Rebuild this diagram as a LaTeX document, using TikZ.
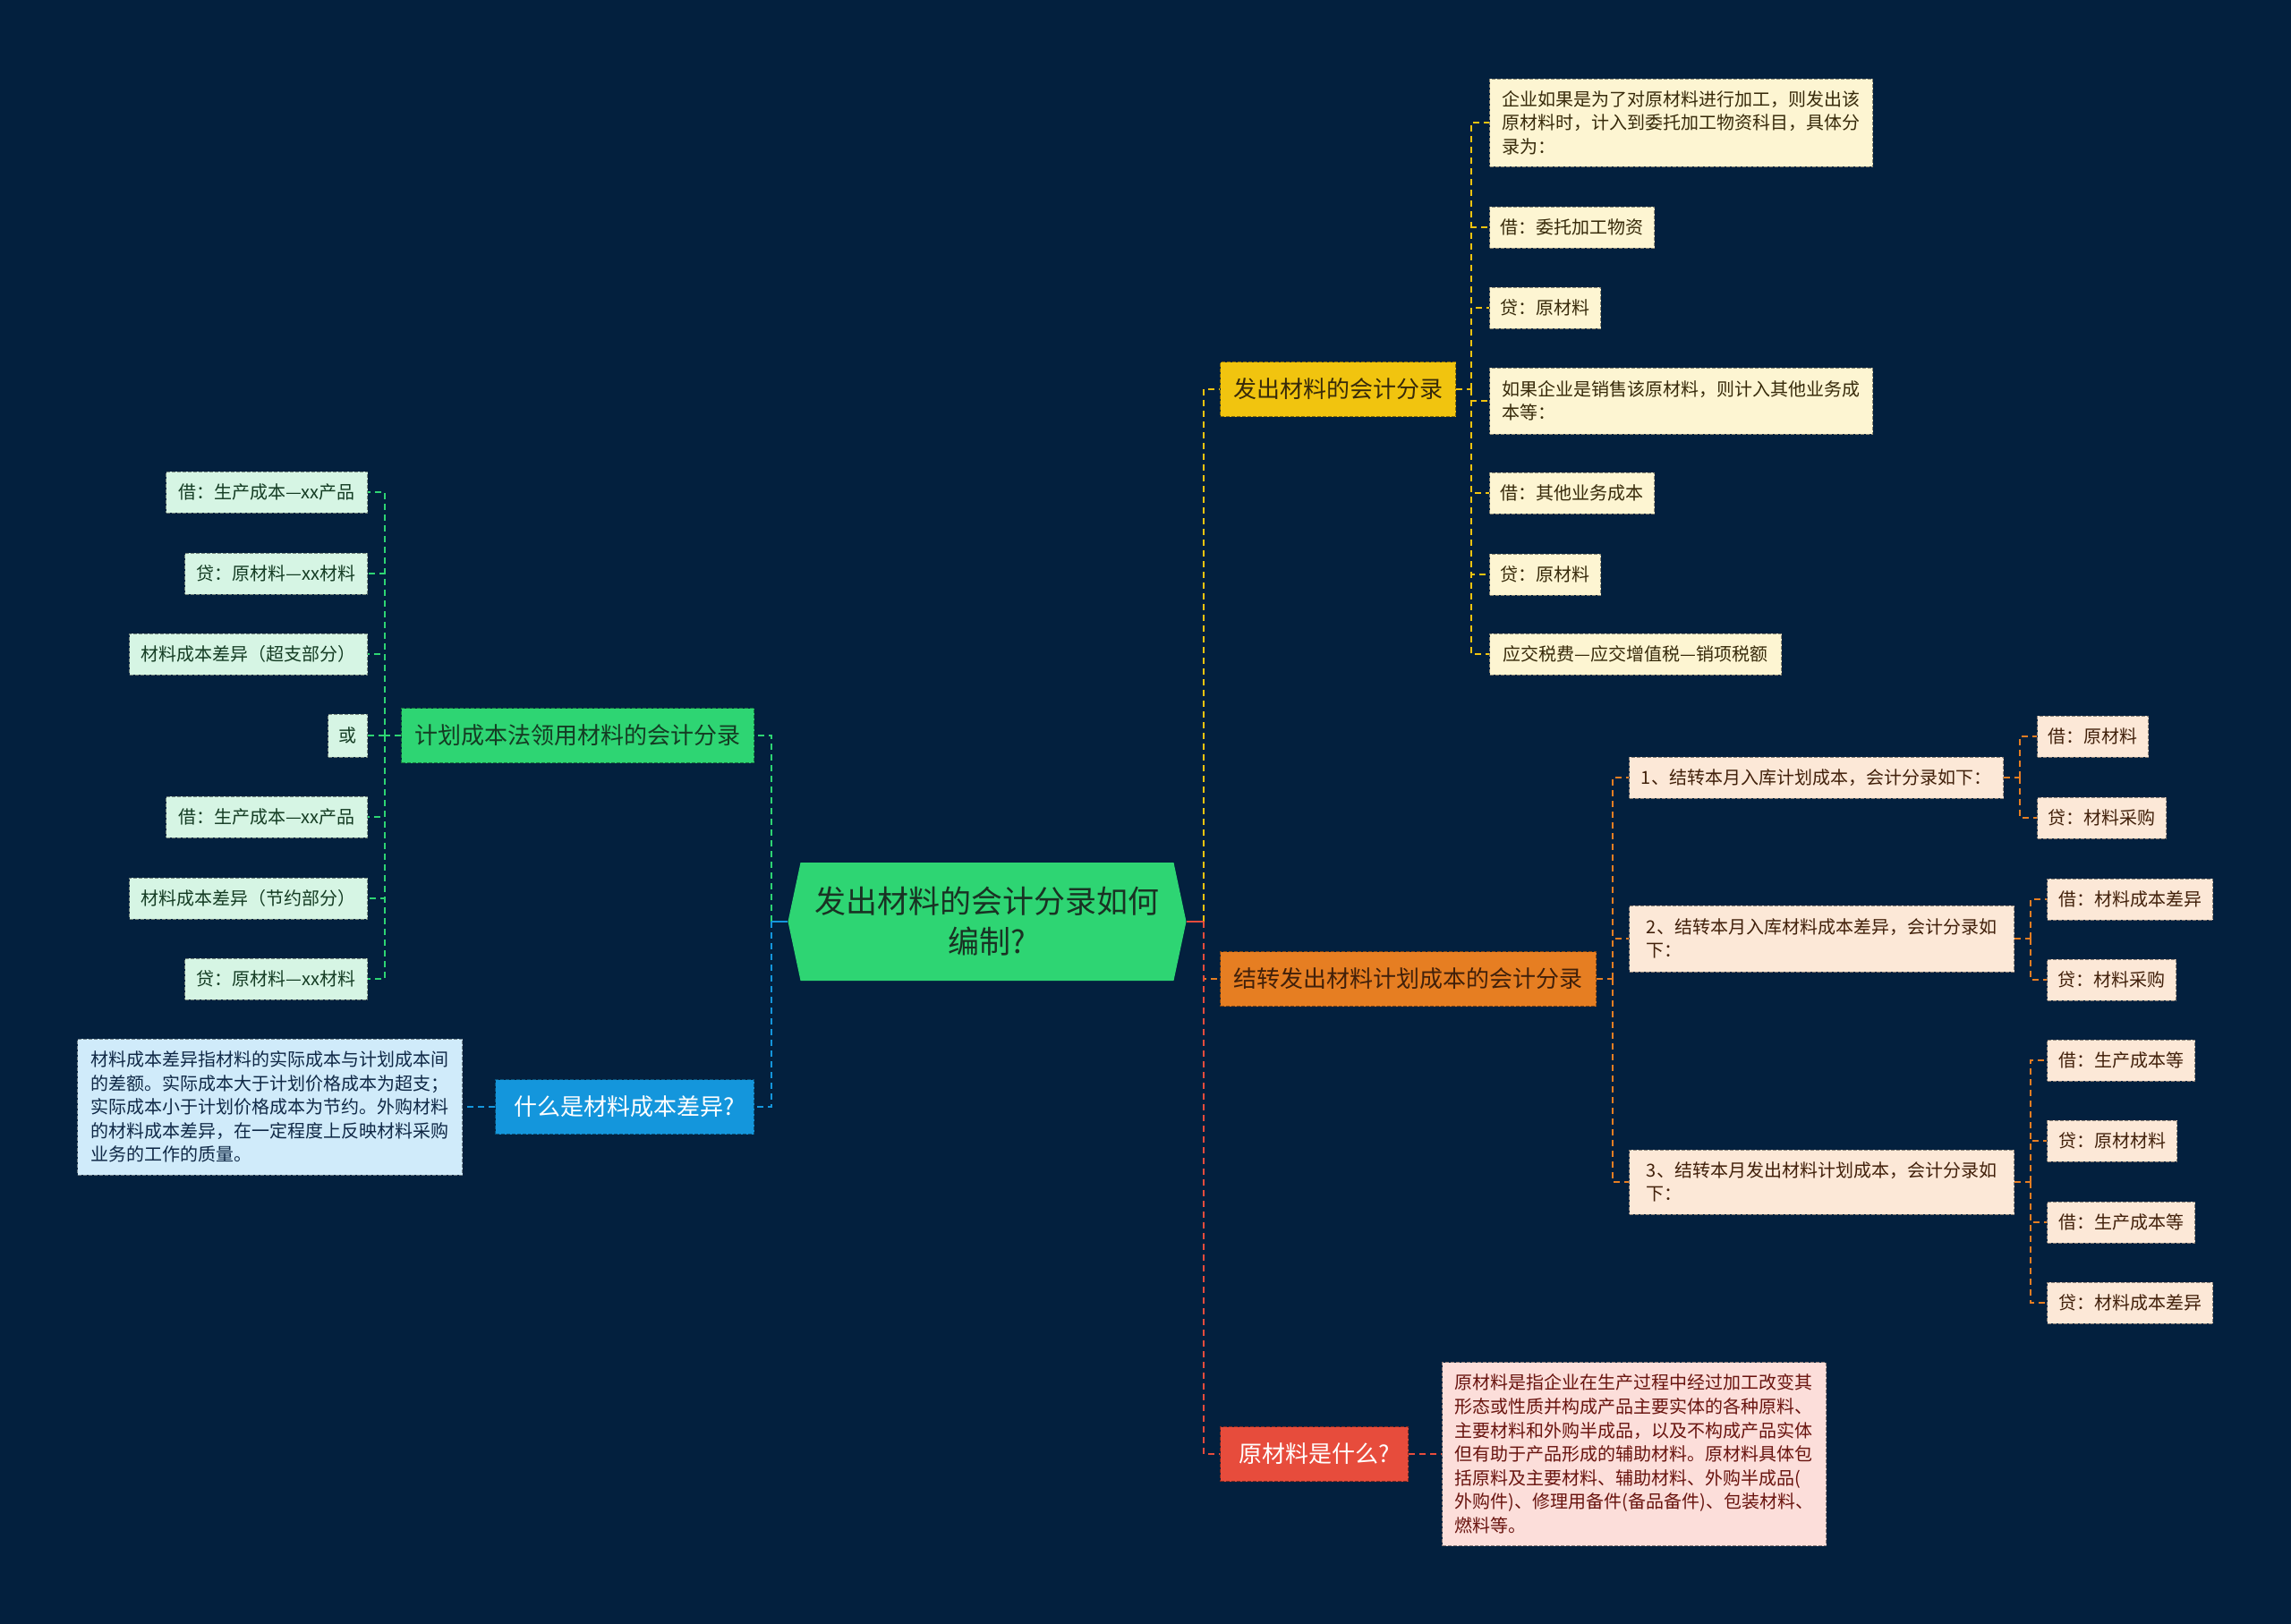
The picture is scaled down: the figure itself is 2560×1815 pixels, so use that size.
\documentclass[tikz,border=0pt]{standalone}
\usepackage{fontspec}
\setmainfont{Noto Sans CJK SC}
\usetikzlibrary{shapes.symbols}
\definecolor{bgc}{RGB}{3,32,62}
\definecolor{rootg}{RGB}{46,213,115}
\definecolor{roottxt}{RGB}{25,50,35}
\definecolor{ycol}{RGB}{241,196,15}
\definecolor{ocol}{RGB}{230,126,34}
\definecolor{rcol}{RGB}{231,76,60}
\definecolor{gcol}{RGB}{46,213,115}
\definecolor{bcol}{RGB}{20,150,220}
\definecolor{yfill}{RGB}{253,245,210}
\definecolor{ofill}{RGB}{252,232,215}
\definecolor{rfill}{RGB}{252,222,218}
\definecolor{gfill}{RGB}{214,245,228}
\definecolor{bfill}{RGB}{208,235,250}
\definecolor{ytxt}{RGB}{55,42,10}
\definecolor{otxt}{RGB}{65,32,10}
\definecolor{rtxt}{RGB}{105,20,15}
\definecolor{gtxt}{RGB}{20,60,35}
\definecolor{btxt}{RGB}{15,40,70}
\begin{document}
\begin{tikzpicture}[x=0.5pt,y=-0.5pt,
  box/.style={draw, dash pattern=on 2pt off 1pt, line width=0.5pt, inner xsep=6pt, inner ysep=0pt,
    font=\fontsize{10}{13.3}\selectfont, align=left, minimum height=23pt},
  yleaf/.style={box, fill=yfill, draw=yfill!55!black, text=ytxt, anchor=west},
  oleaf/.style={box, fill=ofill, draw=ofill!55!black, text=otxt, anchor=west},
  rleaf/.style={box, fill=rfill, draw=rfill!55!black, text=rtxt, anchor=west},
  gleaf/.style={box, fill=gfill, draw=gfill!55!black, text=gtxt, anchor=east},
  bleaf/.style={box, fill=bfill, draw=bfill!55!black, text=btxt, anchor=east},
  branch/.style={draw, dash pattern=on 2pt off 1pt, line width=0.5pt, inner xsep=0pt, inner ysep=0pt,
    font=\fontsize{13}{16}\selectfont, minimum height=30.5pt},
  conn/.style={line width=1pt, dash pattern=on 3.5pt off 2.5pt},
  yl/.style={conn, draw=ycol}, ol/.style={conn, draw=ocol}, rl/.style={conn, draw=rcol},
  gl/.style={conn, draw=gcol}, bl/.style={conn, draw=bcol}]
\fill[bgc] (0,0) rectangle (2560,1815);
\useasboundingbox (0,0) rectangle (2560,1815);

% root
\node[signal, signal to=west and east, signal pointer angle=156, fill=rootg, text=roottxt,
  minimum width=222.5pt, minimum height=66pt, inner sep=0pt, align=center,
  font=\fontsize{17.5}{22.5}\selectfont] (root) at (1103,1030) {发出材料的会计分录如何\\编制?};

% branches
\node[branch, fill=ycol, draw=ycol!55!black, text=ytxt, anchor=west, minimum width=131.5pt] (yb) at (1363,435) {发出材料的会计分录};
\node[branch, fill=ocol, draw=ocol!55!black, text=otxt, anchor=west, minimum width=210pt] (ob) at (1363,1094) {结转发出材料计划成本的会计分录};
\node[branch, fill=rcol, draw=rcol!55!black, text=white, anchor=west, minimum width=105pt] (rb) at (1363,1625) {原材料是什么?};
\node[branch, fill=gcol, draw=gcol!55!black, text=gtxt, anchor=east, minimum width=197pt] (gb) at (843,822) {计划成本法领用材料的会计分录};
\node[branch, fill=bcol, draw=bcol!55!black, text=white, anchor=east, minimum width=144.5pt] (bb) at (843,1237) {什么是材料成本差异?};

% yellow leaves
\node[yleaf, minimum width=214pt, minimum height=49pt] (A1) at (1664,137) {企业如果是为了对原材料进行加工，则发出该\\原材料时，计入到委托加工物资科目，具体分\\录为：};
\node[yleaf, minimum width=91.5pt] (A2) at (1664,254) {借：委托加工物资};
\node[yleaf, minimum width=60.5pt] (A3) at (1664,344) {贷：原材料};
\node[yleaf, minimum width=214pt, minimum height=37pt] (A4) at (1664,448) {如果企业是销售该原材料，则计入其他业务成\\本等：};
\node[yleaf, minimum width=91.5pt] (A5) at (1664,551) {借：其他业务成本};
\node[yleaf, minimum width=60.5pt] (A6) at (1664,642) {贷：原材料};
\node[yleaf, minimum width=163pt] (A7) at (1664,731) {应交税费—应交增值税—销项税额};

% orange sub-branches
\node[oleaf, minimum width=209pt] (B1) at (1820,869) {1、结转本月入库计划成本，会计分录如下：};
\node[oleaf, minimum width=215pt, minimum height=37pt] (B2) at (1820,1049) {2、结转本月入库材料成本差异，会计分录如\\下：};
\node[oleaf, minimum width=215pt, minimum height=36pt] (B3) at (1820,1321) {3、结转本月发出材料计划成本，会计分录如\\下：};
\node[oleaf, minimum width=61pt] (B11) at (2276,823) {借：原材料};
\node[oleaf, minimum width=71pt] (B12) at (2276,914) {贷：材料采购};
\node[oleaf, minimum width=92.5pt] (B21) at (2287,1005) {借：材料成本差异};
\node[oleaf, minimum width=72pt] (B22) at (2287,1095) {贷：材料采购};
\node[oleaf, minimum width=82.5pt] (B31) at (2287,1185) {借：生产成本等};
\node[oleaf, minimum width=72.5pt] (B32) at (2287,1275) {贷：原材材料};
\node[oleaf, minimum width=82.5pt] (B33) at (2287,1366) {借：生产成本等};
\node[oleaf, minimum width=92.5pt] (B34) at (2287,1456) {贷：材料成本差异};

% red leaf
\node[rleaf, minimum width=214.5pt, minimum height=102.5pt] (R1) at (1611,1625) {原材料是指企业在生产过程中经过加工改变其\\形态或性质并构成产品主要实体的各种原料、\\主要材料和外购半成品，以及不构成产品实体\\但有助于产品形成的辅助材料。原材料具体包\\括原料及主要材料、辅助材料、外购半成品(\\外购件)、修理用备件(备品备件)、包装材料、\\燃料等。};

% green leaves
\node[gleaf, minimum width=112.5pt] (C1) at (411,550) {借：生产成本—xx产品};
\node[gleaf, minimum width=102pt] (C2) at (411,641) {贷：原材料—xx材料};
\node[gleaf, minimum width=133pt] (C3) at (411,731) {材料成本差异（超支部分）};
\node[gleaf, minimum width=20pt, minimum height=24pt] (C4) at (411,822) {或};
\node[gleaf, minimum width=112.5pt] (C5) at (411,913) {借：生产成本—xx产品};
\node[gleaf, minimum width=133pt] (C6) at (411,1004) {材料成本差异（节约部分）};
\node[gleaf, minimum width=102pt] (C7) at (411,1094) {贷：原材料—xx材料};

% blue leaf
\node[bleaf, minimum width=215pt, minimum height=76pt] (L1) at (517,1237) {材料成本差异指材料的实际成本与计划成本间\\的差额。实际成本大于计划价格成本为超支；\\实际成本小于计划价格成本为节约。外购材料\\的材料成本差异，在一定程度上反映材料采购\\业务的工作的质量。};

% junction coordinates
\coordinate (jl) at (862,1030);
\coordinate (jr) at (1345,1030);
\coordinate (jy) at (1644,435);
\coordinate (jo) at (1802,1094);
\coordinate (jg) at (430,822);
\coordinate (jb1) at (2257,869);
\coordinate (jb2) at (2269,1049);
\coordinate (jb3) at (2269,1321);

% root connectors
\draw[gl] (jl) |- (gb.east);
\draw[bl] (jl) |- (bb.east);
\draw[draw=bcol, line width=1pt] (root.west) -- (jl);
\draw[yl] (jr) |- (yb.west);
\draw[ol] (jr) |- (ob.west);
\draw[rl] (jr) |- (rb.west);
\draw[draw=rcol, line width=1pt] (root.east) -- (jr);

% yellow
\draw[yl] (yb.east) -- (jy);
\foreach \n in {A1,A2,A3,A4,A5,A6,A7} \draw[yl] (jy) |- (\n.west);
% orange
\draw[ol] (ob.east) -- (jo);
\foreach \n in {B1,B2,B3} \draw[ol] (jo) |- (\n.west);
\draw[ol] (B1.east) -- (jb1);
\foreach \n in {B11,B12} \draw[ol] (jb1) |- (\n.west);
\draw[ol] (B2.east) -- (jb2);
\foreach \n in {B21,B22} \draw[ol] (jb2) |- (\n.west);
\draw[ol] (B3.east) -- (jb3);
\foreach \n in {B31,B32,B33,B34} \draw[ol] (jb3) |- (\n.west);
% red
\draw[rl] (rb.east) -- (R1.west);
% green
\draw[gl] (gb.west) -- (jg);
\foreach \n in {C1,C2,C3,C4,C5,C6,C7} \draw[gl] (jg) |- (\n.east);
% blue
\draw[bl] (bb.west) -- (L1.east);
\end{tikzpicture}
\end{document}
